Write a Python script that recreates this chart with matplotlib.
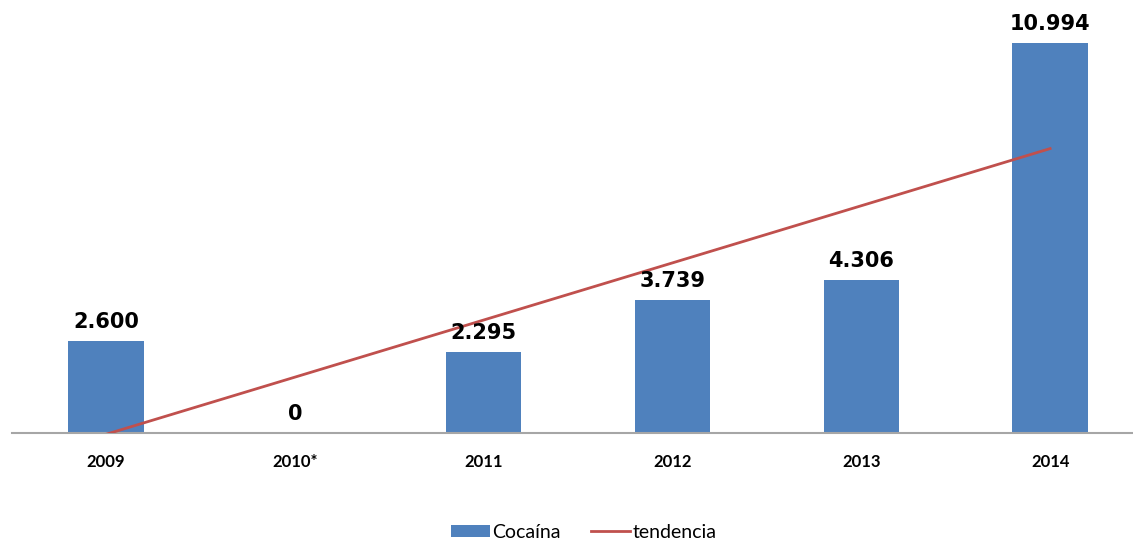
import numpy as np
import matplotlib
matplotlib.use("Agg")
import matplotlib.pyplot as plt
from matplotlib.patches import Patch
from matplotlib.lines import Line2D

categories = ["2009", "2010*", "2011", "2012", "2013", "2014"]
values = [2600, 0, 2295, 3739, 4306, 10994]
value_labels = ["2.600", "0", "2.295", "3.739", "4.306", "10.994"]

bar_color = "#4F81BD"
line_color = "#C0504D"

fig = plt.figure(figsize=(11.33, 5.4), dpi=100)
ax = fig.add_axes([0.0102, 0.198, 1.0, 0.789])

x = np.arange(len(categories))
ax.bar(x, values, width=0.4, color=bar_color, zorder=2)

# linear trend line (least squares fit of the series)
coef = np.polyfit(x, values, 1)
trend = np.polyval(coef, x)
ax.plot([x[0], x[-1]], [trend[0], trend[-1]], color=line_color, lw=2, zorder=3)

for xi, v, lab in zip(x, values, value_labels):
    ax.text(xi, v + 250, lab, ha="center", va="bottom", fontsize=15,
            fontweight="bold", family="DejaVu Sans", color="black")

ax.set_xlim(-0.5, 5.5)
ax.set_ylim(0, 12000)
ax.set_xticks(x)
ax.set_xticklabels(categories, fontsize=12, fontweight="bold", family="Lato")
ax.tick_params(axis="x", length=0, pad=15)
ax.set_yticks([])
for s in ["top", "right", "left"]:
    ax.spines[s].set_visible(False)
ax.spines["bottom"].set_color("#A6A6A6")
ax.spines["bottom"].set_linewidth(1.5)

handles = [Patch(facecolor=bar_color, label="Cocaína"),
           Line2D([0], [0], color=line_color, lw=2, label="tendencia")]
fig.legend(handles=handles, loc="center", bbox_to_anchor=(0.515, 0.014),
           ncol=2, frameon=False, prop={"family": "Lato", "size": 14},
           handlelength=2.0, handleheight=0.6, handletextpad=0.1, columnspacing=1.6)

fig.savefig("out.png", dpi=100)
